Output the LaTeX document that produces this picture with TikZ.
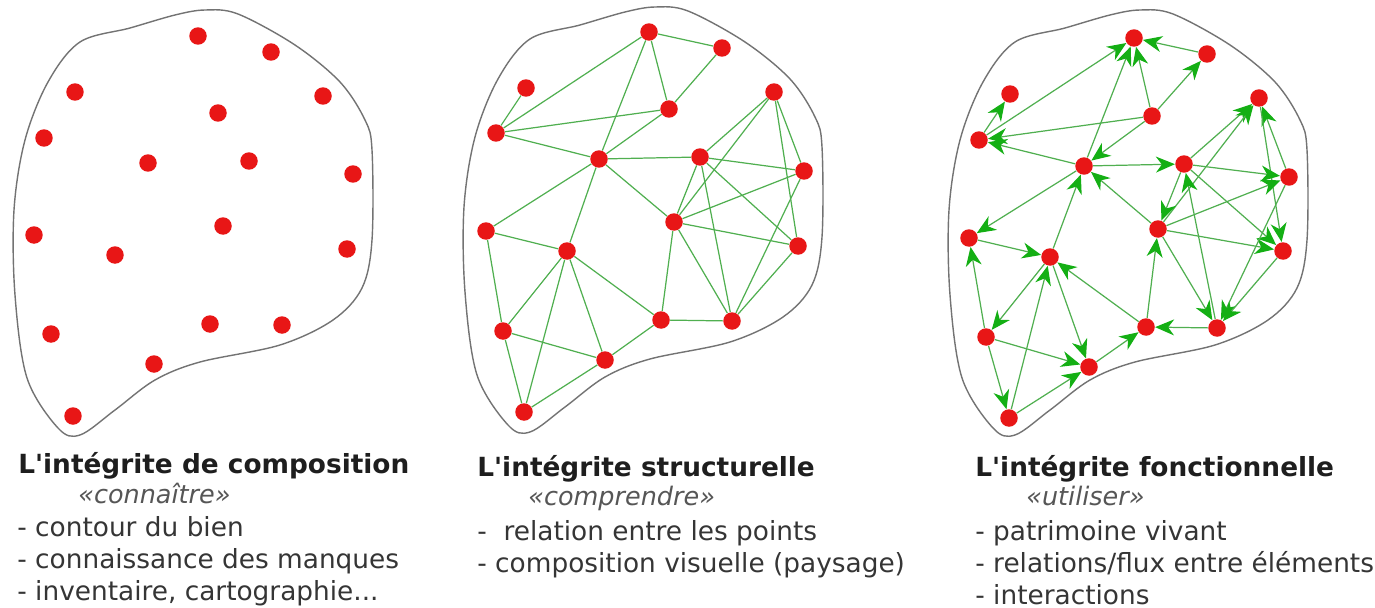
\documentclass[tikz,border=0pt]{standalone}
\usepackage{fontspec}
\setmainfont{DejaVu Sans}
\usepackage{tikz}
\usepackage{xcolor}
\usetikzlibrary{arrows.meta}

\definecolor{dotred}{RGB}{232,22,22}
\definecolor{linkgreen}{RGB}{80,175,80}
\definecolor{tipgreen}{RGB}{20,175,20}
\definecolor{inkgray}{RGB}{30,30,30}

\begin{document}
\begin{tikzpicture}[
    x=0.02cm, y=-0.02cm,
    dot/.style={circle, fill=dotred, minimum size=0.35cm, inner sep=0pt},
    link/.style={draw=linkgreen, line width=0.7pt},
    flow/.style={link, -{Stealth[length=3.8mm, width=3.2mm, inset=1.2mm, color=tipgreen]}},
    contour/.style={draw=black!55, line width=0.8pt},
    heading/.style={anchor=base west, inner sep=0pt, text=inkgray, font=\bfseries\fontsize{15}{18}\selectfont},
    motto/.style={anchor=base west, inner sep=0pt, text=inkgray!75, font=\itshape\fontsize{14.5}{17}\selectfont},
    item/.style={anchor=base west, inner sep=0pt, text=inkgray!90, font=\fontsize{15}{18}\selectfont}
]
    \useasboundingbox (0,0) rectangle (1375,608);

    % Outlines of the site
    \foreach \dx/\dy in {0/0, 450/-3, 935/0} {
        \draw[contour, shift={(\dx,\dy)}] plot[smooth cycle, tension=0.55] coordinates {
            (80,42) (130,28) (175,15) (205,10) (238,14) (295,45) (340,82)
            (365,120) (372,150) (372,240) (362,288) (333,320) (280,345)
            (200,362) (155,380) (115,410) (80,435) (58,428) (27,378)
            (15,295) (14,210) (25,140) (48,82)};
    }

    % Composition: points only
    \foreach \n/\x/\y in {1/198/36, 2/271/52, 3/75/92, 4/323/96, 5/218/113,
        6/44/138, 7/148/163, 8/249/161, 9/353/174, 10/34/235, 11/223/226,
        12/115/255, 13/347/249, 14/51/334, 15/210/324, 16/282/325,
        17/154/364, 18/73/416}
        \node[dot] (c\n) at (\x,\y) {};

    % Structure: points and relations
    \foreach \n/\x/\y in {a/649/32, b/722/48, c/526/88, d/669/109, e/496/133,
        f/774/92, g/599/159, h/700/157, i/804/171, j/674/222, k/486/231,
        l/567/251, m/798/246, n/503/331, o/661/320, p/732/321, q/605/360,
        r/524/412}
        \node[dot] (s\n) at (\x,\y) {};
    \foreach \u/\v in {a/b, a/d, a/g, a/e, b/d, c/e, e/d, e/g, d/g, g/h, h/i,
        g/k, g/l, g/j, f/h, f/j, f/i, f/m, h/j, h/m, h/p, i/j, i/p, j/m, j/o,
        j/p, m/p, o/p, k/l, k/n, l/n, l/r, l/q, l/o, n/q, n/r, r/q, q/o}
        \draw[link] (s\u) -- (s\v);

    % Function: points and flows
    \foreach \n/\x/\y in {a/1134/38, b/1207/54, c/1010/94, d/1152/116,
        e/979/140, f/1259/98, g/1084/166, h/1184/164, i/1289/177, j/1158/229,
        k/969/238, l/1050/257, m/1283/251, n/986/337, o/1146/327, p/1217/328,
        q/1089/367, r/1009/418}
        \node[dot] (f\n) at (\x,\y) {};
    \foreach \u/\v in {b/a, d/a, g/a, e/a, d/b, d/e, d/g, e/c, g/e, g/h, g/k,
        l/g, j/g, h/f, j/f, i/f, f/m, h/i, j/i, h/j, p/h, h/m, j/m, j/p, i/p,
        m/p, k/l, o/l, n/k, l/n, r/l, l/q, n/q, n/r, r/q, q/o, o/j, p/o}
        \draw[flow] (f\u) -- (f\v);

    % Captions
    \node[heading] (t1) at (18,473) {L\textquotesingle intégrite de composition};
    \node[motto] (m1) at (78,503) {«connaître»};
    \node[item] (i11) at (17,536) {- contour du bien};
    \node[item] (i12) at (17,568) {- connaissance des manques};
    \node[item] (i13) at (17,600) {- inventaire, cartographie...};

    \node[heading] (t2) at (477,476) {L\textquotesingle intégrite structurelle};
    \node[motto] (m2) at (528,505) {«comprendre»};
    \node[item] (i21) at (477,540) {-~~relation entre les points};
    \node[item] (i22) at (477,572) {- composition visuelle (paysage)};

    \node[heading] (t3) at (975,476) {L\textquotesingle intégrite fonctionnelle};
    \node[motto] (m3) at (1026,505) {«utiliser»};
    \node[item] (i31) at (975,540) {- patrimoine vivant};
    \node[item] (i32) at (975,572) {- relations/flux entre éléments};
    \node[item] (i33) at (975,604) {- interactions};
\end{tikzpicture}
\end{document}
